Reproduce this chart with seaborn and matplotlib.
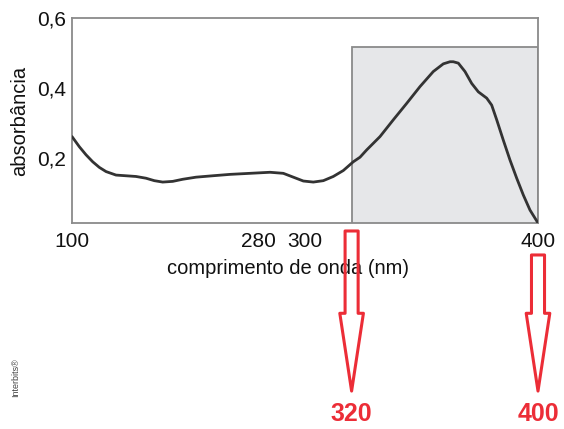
import matplotlib
matplotlib.use("Agg")
import matplotlib.pyplot as plt
import seaborn as sns
from matplotlib.patches import Rectangle

# data (x = position on the schematic wavelength axis, 0..10 tick steps)
pos = [0.00, 0.157, 0.300, 0.444, 0.586, 0.730, 0.944, 1.159, 1.373, 1.588,
       1.766, 1.946, 2.161, 2.376, 2.661, 3.019, 3.391, 3.820, 4.249, 4.534,
       4.749, 4.964, 5.178, 5.393, 5.607, 5.822, 6.036, 6.180, 6.324, 6.609,
       6.895, 7.182, 7.468, 7.753, 7.968, 8.112, 8.182, 8.290, 8.433, 8.577,
       8.719, 8.899, 9.006, 9.114, 9.255, 9.399, 9.543, 9.685, 9.828, 10.0]
absorb = [0.261, 0.232, 0.209, 0.189, 0.173, 0.161, 0.151, 0.149, 0.147, 0.142,
          0.135, 0.131, 0.133, 0.139, 0.145, 0.149, 0.153, 0.156, 0.159, 0.156,
          0.145, 0.134, 0.131, 0.135, 0.147, 0.164, 0.189, 0.202, 0.223, 0.261,
          0.309, 0.356, 0.404, 0.447, 0.469, 0.475, 0.475, 0.471, 0.447, 0.413,
          0.389, 0.371, 0.351, 0.309, 0.251, 0.194, 0.142, 0.094, 0.051, 0.014]
tick_pos = [0, 4, 5, 10]
tick_labels = ["100", "280", "300", "400"]
ytick_vals = [0.2, 0.4, 0.6]
ytick_labels = ["0,2", "0,4", "0,6"]
band = (6, 10, 0.517)          # shaded region start, end, height
arrow_pos = [6, 10]
arrow_labels = ["320", "400"]

sns.set_style("white")
plt.rcParams['font.family'] = ['Liberation Sans', 'DejaVu Sans']

fig = plt.figure(figsize=(5.64, 4.29), dpi=100)
ax = fig.add_axes([0.1277, 0.4802, 0.8262, 0.4778])

ax.add_patch(Rectangle((band[0], 0), band[1] - band[0], band[2],
                       facecolor="#e6e7e9", edgecolor="#8a8a8a", lw=1.3, zorder=1))
sns.lineplot(x=pos, y=absorb, ax=ax, color="#333333", lw=2.0, zorder=3,
             solid_joinstyle="round", solid_capstyle="round")

ax.set_xlim(0, 10)
ax.set_ylim(0.014, 0.6)
ax.set_xticks(range(11))
ax.set_xticklabels([tick_labels[tick_pos.index(i)] if i in tick_pos else "" for i in range(11)])
ax.set_yticks(ytick_vals)
ax.set_yticklabels(ytick_labels)
ax.tick_params(axis='x', direction='in', length=4, width=1.2, color="#8a8a8a",
               pad=6.5, labelsize=15, labelcolor="#111111")
ax.tick_params(axis='y', length=0, pad=4, labelsize=15, labelcolor="#111111")
for s in ax.spines.values():
    s.set_color("#8a8a8a")
    s.set_linewidth(1.3)

ax.set_xlabel("comprimento de onda (nm)", fontsize=14.5, color="#111111")
ax.xaxis.set_label_coords(0.4635, -0.178)
ax.set_ylabel("absorbância", fontsize=14.5, color="#111111")
ax.yaxis.set_label_coords(-0.092, 0.50)

# red outlined arrows with labels
tops = [-0.039, -0.156]
for xp, top, lab in zip(arrow_pos, tops, arrow_labels):
    ax.annotate("", xy=(xp, -0.82), xytext=(xp, top),
                xycoords=('data', 'axes fraction'), textcoords=('data', 'axes fraction'),
                arrowprops=dict(arrowstyle="simple,head_length=56,head_width=17,tail_width=9.4",
                                mutation_scale=1, shrinkA=0, shrinkB=0,
                                facecolor="none", edgecolor="#ec2d37", lw=2.2),
                annotation_clip=False)
    ax.text(xp, -0.93, lab, transform=ax.get_xaxis_transform(), ha="center", va="center",
            fontsize=18, fontweight="bold", color="#ec2d37", clip_on=False)

fig.text(0.027, 0.12, "Interbits®", rotation=90, ha="center", va="center",
         fontsize=6.5, color="#444444")

fig.savefig("out.png", dpi=100)
